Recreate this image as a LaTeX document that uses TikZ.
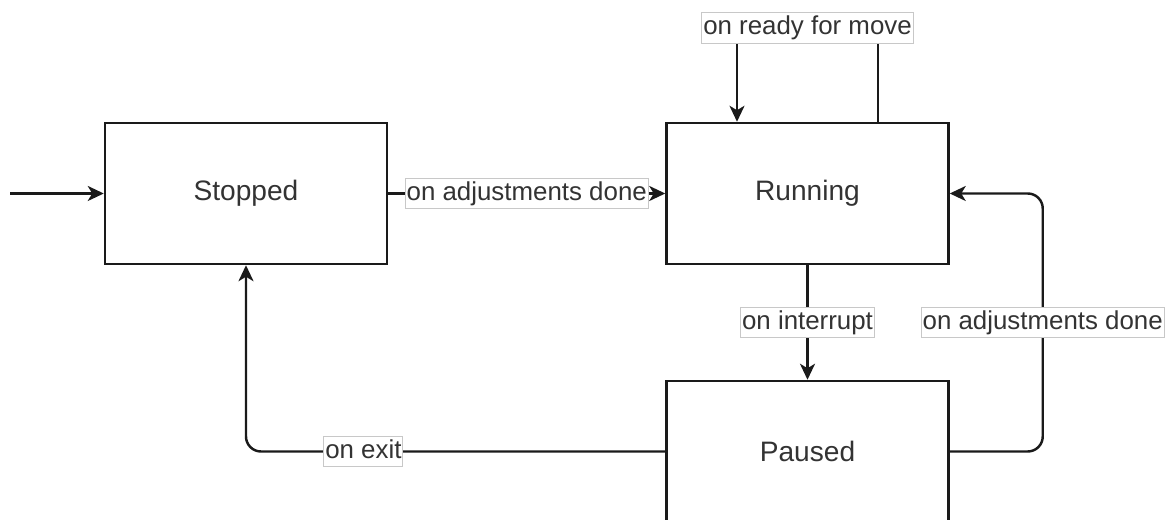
\documentclass[tikz,border=0pt]{standalone}
\usepackage{fontspec}
\setmainfont{Liberation Sans}
\usepackage{tikz}
\usetikzlibrary{arrows.meta,positioning,calc}
\definecolor{inkC}{HTML}{1A1A1A}
\definecolor{textC}{HTML}{333333}
\definecolor{lblborder}{HTML}{C8C8C8}
\tikzset{
  state/.style={rectangle, draw=inkC, fill=white, line width=0.7pt,
                minimum width=2.82cm, minimum height=1.41cm, align=center,
                text=textC, font=\fontsize{8}{9.6}\selectfont},
  lbl/.style={rectangle, sharp corners, draw=lblborder, fill=white, line width=0.3pt,
              inner xsep=0.4pt, inner ysep=0.9pt, text=textC,
              text height=5.4pt, text depth=1.5pt, font=\fontsize{7.36}{8.8}\selectfont},
  arr/.style={-{Stealth[length=1.6mm, width=1.5mm, inset=0.45mm]}, line width=0.7pt, draw=inkC},
}

\begin{document}
\begin{tikzpicture}
\useasboundingbox (0,0) rectangle (11.66,5.2);
% states
\node[state] (stopped) at (2.46,3.265) {Stopped};
\node[state] (running) at (8.075,3.265) {Running};
\node[state] (paused) at (8.075,0.685) {Paused};
\coordinate (init) at (0.10,3.265);
% transitions
\draw[arr] (init) -- (stopped);
\draw[arr] (stopped) -- (running) node[midway, lbl] {on adjustments done};
\draw[arr] ([xshift=7.05mm]running.north) -- ++(0,0.94) -| ([xshift=-7.05mm]running.north)
  node[pos=0.25, lbl] {on ready for move};
\draw[arr] (running) -- (paused) node[midway, lbl] {on interrupt};
\draw[arr, rounded corners=1.5mm] (paused.east) -- ++(0.93,0) |- (running.east)
  node[pos=0.25, lbl] {on adjustments done};
\draw[arr, rounded corners=1.5mm] (paused.west) -| (stopped.south)
  node[pos=0.36, lbl] {on exit};
\end{tikzpicture}
\end{document}
